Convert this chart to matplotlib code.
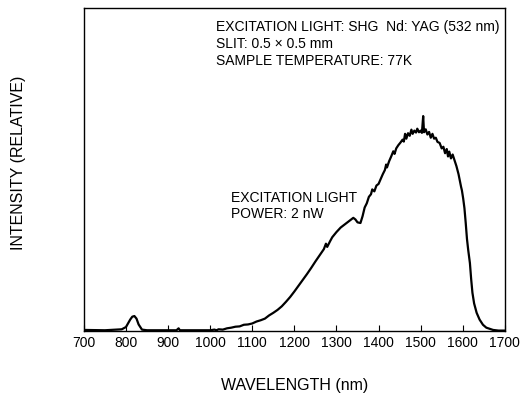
import matplotlib
matplotlib.use('Agg')
import matplotlib.pyplot as plt

plt.rcParams['font.family'] = ['Liberation Sans', 'DejaVu Sans']

# Emission spectrum (relative intensity, % of axis height)
wavelength = [700, 750, 790, 800, 810, 815, 820, 825, 830, 838, 850, 900, 920, 925, 928,
              950, 1000, 1010, 1015, 1020, 1030, 1040, 1050, 1060, 1070, 1080, 1090, 1100,
              1110, 1120, 1130, 1140, 1150, 1160, 1170, 1180, 1190, 1200, 1210, 1220, 1230,
              1240, 1250, 1260, 1270, 1275, 1278, 1285, 1290, 1300, 1310, 1320, 1330, 1340,
              1345, 1350, 1357, 1362, 1367, 1372, 1377, 1382, 1385, 1390, 1395, 1400, 1405,
              1410, 1415, 1418, 1420, 1425, 1430, 1435, 1438, 1442, 1447, 1452, 1457, 1460,
              1463, 1466, 1470, 1474, 1478, 1481, 1485, 1489, 1492, 1496, 1500, 1503, 1506,
              1508, 1512, 1516, 1520, 1524, 1528, 1532, 1536, 1540, 1545, 1550, 1554, 1558,
              1562, 1565, 1568, 1572, 1576, 1580, 1585, 1590, 1593, 1596, 1598, 1601, 1604,
              1607, 1610, 1613, 1617, 1620, 1623, 1627, 1633, 1640, 1648, 1656, 1665, 1672,
              1685, 1700]
intensity = [0.3, 0.2, 0.5, 1.2, 3.5, 4.4, 4.6, 3.8, 2.0, 0.4, 0.2, 0.2, 0.2, 0.8, 0.2,
             0.2, 0.2, 0.4, 0.2, 0.5, 0.4, 0.8, 1.0, 1.3, 1.4, 1.9, 2.0, 2.3,
             2.9, 3.3, 3.8, 4.8, 5.6, 6.5, 7.6, 9.0, 10.5, 12.2, 14.0, 15.8, 17.6,
             19.5, 21.5, 23.4, 25.3, 27.0, 26.0, 27.8, 29.0, 30.6, 32.0, 33.0, 34.0, 35.0,
             34.5, 33.6, 33.4, 35.5, 38.2, 39.5, 41.5, 42.3, 43.8, 43.2, 45.0, 45.5, 47.0,
             48.5, 49.8, 51.5, 50.6, 52.5, 54.0, 55.6, 54.8, 56.5, 57.5, 58.3, 59.2, 58.6,
             61.0, 59.5, 61.2, 60.4, 62.3, 61.0, 62.0, 61.4, 62.6, 61.5, 62.0, 61.3, 66.5,
             61.5, 62.4, 60.8, 61.6, 59.8, 61.0, 59.5, 59.8, 58.5, 58.2, 56.5, 57.0, 55.0,
             56.3, 54.0, 55.5, 53.4, 54.6, 53.0, 51.0, 48.5, 46.5, 44.6, 43.5, 41.0, 38.0,
             33.5, 28.5, 25.0, 21.0, 16.0, 11.8, 8.5, 5.6, 3.5, 1.9, 1.0, 0.6, 0.3,
             0.1, 0.1]

x_ticks = list(range(700, 1701, 100))

conditions = ['EXCITATION LIGHT: SHG  Nd: YAG (532 nm)',
              'SLIT: 0.5 \u00d7 0.5 mm',
              'SAMPLE TEMPERATURE: 77K']
power_note = ['EXCITATION LIGHT', 'POWER: 2 nW']

fig = plt.figure(figsize=(5.21, 3.93), dpi=100)
ax = fig.add_axes([0.161, 0.158, 0.808, 0.822])

ax.plot(wavelength, intensity, color='black', lw=1.6)

ax.set_xlim(700, 1700)
ax.set_ylim(0, 100)
ax.set_xticks(x_ticks)
ax.set_yticks([])
ax.tick_params(axis='x', direction='in', length=4, width=0.8, labelsize=10, pad=4)
for s in ax.spines.values():
    s.set_linewidth(1.0)

fig.text(0.566, 0.020, 'WAVELENGTH (nm)', fontsize=11.5, ha='center', va='center')
fig.text(0.036, 0.585, 'INTENSITY (RELATIVE)', rotation=90, fontsize=11.5,
         ha='center', va='center')

for i, line in enumerate(conditions):
    ax.text(0.3135, 0.941 - i * 0.053, line, transform=ax.transAxes,
            fontsize=10, va='center')
for i, line in enumerate(power_note):
    ax.text(0.349, 0.412 - i * 0.050, line, transform=ax.transAxes,
            fontsize=10, va='center')

fig.savefig('out.png', dpi=100)
